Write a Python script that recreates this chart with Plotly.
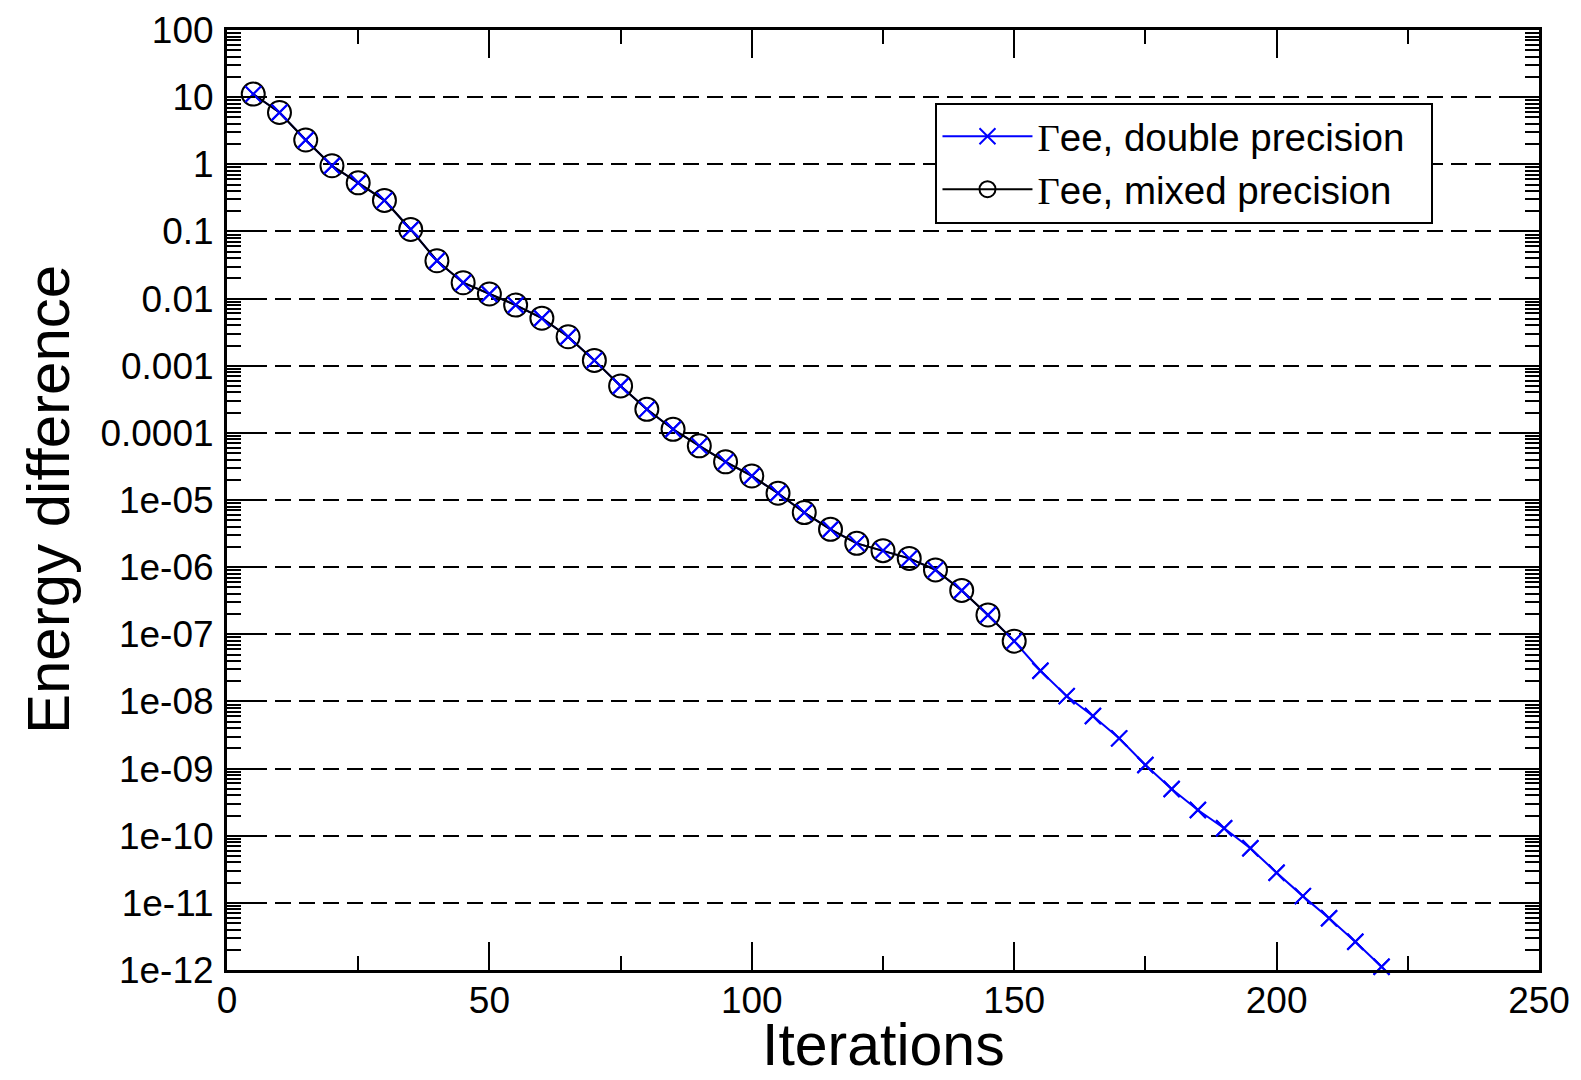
import plotly.graph_objects as go

# ---- data ----
iter_double = [5, 10, 15, 20, 25, 30, 35, 40, 45, 50, 55, 60, 65, 70, 75, 80, 85, 90,
               95, 100, 105, 110, 115, 120, 125, 130, 135, 140, 145, 150, 155, 160,
               165, 170, 175, 180, 185, 190, 195, 200, 205, 210, 215, 220]
energy_double = [11.1, 5.9, 2.3, 0.95, 0.53, 0.29, 0.107, 0.0366, 0.0172, 0.0117,
                 0.0080, 0.0051, 0.0027, 1.2e-3, 5.0e-4, 2.24e-4, 1.13e-4, 6.4e-5,
                 3.7e-5, 2.28e-5, 1.26e-5, 6.5e-6, 3.66e-6, 2.26e-6, 1.76e-6, 1.35e-6,
                 9.1e-7, 4.5e-7, 1.94e-7, 7.9e-8, 2.87e-8, 1.2e-8, 6.07e-9, 2.82e-9,
                 1.13e-9, 4.96e-10, 2.41e-10, 1.29e-10, 6.5e-11, 2.81e-11, 1.26e-11,
                 5.9e-12, 2.64e-12, 1.12e-12]

iter_mixed = [5, 10, 15, 20, 25, 30, 35, 40, 45, 50, 55, 60, 65, 70, 75, 80, 85, 90,
              95, 100, 105, 110, 115, 120, 125, 130, 135, 140, 145, 150]
energy_mixed = [11.1, 5.9, 2.3, 0.95, 0.53, 0.29, 0.107, 0.0366, 0.0172, 0.0117,
                0.0080, 0.0051, 0.0027, 1.2e-3, 5.0e-4, 2.24e-4, 1.13e-4, 6.4e-5,
                3.7e-5, 2.28e-5, 1.26e-5, 6.5e-6, 3.66e-6, 2.26e-6, 1.76e-6, 1.35e-6,
                9.1e-7, 4.5e-7, 1.94e-7, 7.9e-8]

y_tickvals = [1e-12, 1e-11, 1e-10, 1e-9, 1e-8, 1e-7, 1e-6, 1e-5, 1e-4, 1e-3, 1e-2, 1e-1, 1, 10, 100]
y_ticktext = ["1e-12", "1e-11", "1e-10", "1e-09", "1e-08", "1e-07", "1e-06", "1e-05",
              "0.0001", "0.001", "0.01", "0.1", "1", "10", "100"]
x_tickvals = [0, 50, 100, 150, 200, 250]

x_title = "Iterations"
y_title = "Energy difference"
label_double = "<span style='font-family:Liberation Serif'>Γ</span>ee, double precision\u00a0\u00a0"
label_mixed = "<span style='font-family:Liberation Serif'>Γ</span>ee, mixed precision"

FONT = "Liberation Sans, Arial, Helvetica, sans-serif"

fig = go.Figure()

fig.add_trace(go.Scatter(
    x=iter_double, y=energy_double, mode="lines+markers", name=label_double,
    line=dict(color="#0000ff", width=2),
    marker=dict(symbol="x-thin-open", size=16, color="#0000ff",
                line=dict(color="#0000ff", width=2)),
    cliponaxis=False, legendgroup="d"))

fig.add_trace(go.Scatter(
    x=iter_mixed, y=energy_mixed, mode="lines+markers", name=label_mixed,
    line=dict(color="black", width=2),
    marker=dict(symbol="circle-open", size=23, color="black",
                line=dict(color="black", width=2)),
    cliponaxis=False, legendgroup="m"))

# blue crosses drawn on top of the circles
fig.add_trace(go.Scatter(
    x=iter_double, y=energy_double, mode="markers", showlegend=False,
    marker=dict(symbol="x-thin-open", size=16, color="#0000ff",
                line=dict(color="#0000ff", width=2)),
    cliponaxis=False, legendgroup="d", hoverinfo="skip"))

minor_y = [m * 10.0 ** e for e in range(-12, 2) for m in range(2, 10)]

fig.update_layout(
    width=1581, height=1080,
    margin=dict(l=227, r=42, t=30, b=110),
    paper_bgcolor="white", plot_bgcolor="white",
    font=dict(family=FONT, color="black", size=37),
    showlegend=True,
    legend=dict(
        x=0.540, y=0.9227, xanchor="left", yanchor="top",
        bgcolor="white", bordercolor="black", borderwidth=2,
        font=dict(family=FONT, size=38.5, color="black"),
        itemwidth=90, tracegroupgap=0,
    ),
    xaxis=dict(
        range=[0, 250], tickmode="array", tickvals=x_tickvals,
        ticks="inside", ticklen=28, tickwidth=2, tickcolor="black",
        minor=dict(dtick=25, tick0=0, ticks="inside", ticklen=14, tickwidth=2,
                   tickcolor="black", showgrid=False),
        showline=True, linecolor="black", linewidth=3, mirror="ticks",
        showgrid=False, zeroline=False, automargin=False,
        tickfont=dict(size=37, family=FONT),
        ticklabelstandoff=-4,
    ),
    yaxis=dict(
        type="log", range=[-12, 2], tickmode="array",
        tickvals=y_tickvals, ticktext=y_ticktext,
        ticks="inside", ticklen=28, tickwidth=2, tickcolor="black",
        minor=dict(tickmode="array", tickvals=minor_y, ticks="inside", ticklen=14,
                   tickwidth=2, tickcolor="black", showgrid=False),
        showline=True, linecolor="black", linewidth=3, mirror="ticks",
        showgrid=True, gridcolor="black", gridwidth=2, griddash="16px,8px",
        zeroline=False, automargin=False,
        tickfont=dict(size=37, family=FONT),
        ticklabelstandoff=3,
    ),
    annotations=[
        dict(text=x_title, xref="paper", yref="paper", x=0.5, y=-0.0795,
             xanchor="center", yanchor="middle", showarrow=False,
             font=dict(size=59, family=FONT, color="black")),
        dict(text=y_title, xref="paper", yref="paper", x=-0.1364, y=0.5,
             xanchor="center", yanchor="middle", showarrow=False, textangle=-90,
             font=dict(size=60, family=FONT, color="black")),
    ],
)

fig.write_html("out.html")
